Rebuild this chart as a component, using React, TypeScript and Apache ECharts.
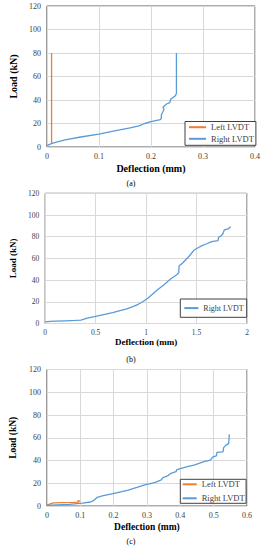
import { useEffect, useRef } from "react";
import * as echarts from "echarts";

const loadTicks = [0, 20, 40, 60, 80, 100, 120];
const deflTicksA = [0, 0.1, 0.2, 0.3, 0.4];
const deflTicksB = [0, 0.5, 1, 1.5, 2];
const deflTicksC = [0, 0.1, 0.2, 0.3, 0.4, 0.5, 0.6];
const seriesNames = ["Left LVDT", "Right LVDT"];
const captions = ["(a)", "(b)", "(c)"];
const xTitle = "Deflection (mm)";
const yTitle = "Load (kN)";

const leftA = [[0.009, 2.5], [0.009, 80]];
const rightA = [
  [0, 1], [0.003, 1.8], [0.01, 3], [0.02, 4.3], [0.035, 6], [0.065, 8.5], [0.1, 11],
  [0.13, 13.8], [0.16, 16.2], [0.177, 18], [0.188, 20], [0.2, 21.5], [0.218, 23.3],
  [0.22, 24.5], [0.22, 27.5], [0.223, 30], [0.225, 32], [0.223, 33.8], [0.23, 36.6],
  [0.236, 37.7], [0.238, 40.6], [0.243, 42.3], [0.247, 43.7], [0.249, 45.7], [0.249, 80],
];
const rightB = [
  [0, 1.5], [0.05, 1.9], [0.1, 2.2], [0.2, 2.5], [0.3, 2.8], [0.354, 3.2], [0.417, 5],
  [0.512, 6.9], [0.6, 8.6], [0.67, 10], [0.75, 12], [0.8, 13.3], [0.87, 15.5], [0.922, 17.7],
  [0.97, 20.3], [1.017, 23.2], [1.06, 26.8], [1.11, 30.9], [1.175, 35.5], [1.239, 40.7],
  [1.3, 44.7], [1.324, 46.8], [1.327, 53], [1.365, 56], [1.4, 59.5], [1.428, 62.2],
  [1.476, 67.7], [1.52, 70], [1.555, 71.8], [1.6, 73.5], [1.65, 75.5], [1.713, 76.3],
  [1.718, 79.5], [1.74, 80.5], [1.76, 82.5], [1.775, 86.2], [1.822, 87.4], [1.825, 88.5],
  [1.839, 89.2],
];
const leftC = [
  [0, 0.8], [0.01, 1.8], [0.02, 2.8], [0.05, 3], [0.08, 3.2], [0.095, 3.4], [0.093, 4.8], [0.1, 4],
];
const rightC = [
  [0, 0.5], [0.03, 1], [0.067, 1.5], [0.106, 2.6], [0.131, 3.5], [0.141, 5], [0.151, 7.6],
  [0.166, 8.8], [0.205, 11.4], [0.244, 14], [0.27, 16.3], [0.293, 18.5], [0.323, 20.5],
  [0.343, 22.9], [0.348, 25], [0.362, 26.4], [0.372, 28.7], [0.387, 30.2], [0.39, 32],
  [0.421, 34.6], [0.441, 36], [0.471, 39], [0.49, 40.4], [0.497, 43], [0.508, 44],
  [0.51, 47.2], [0.528, 47.5], [0.53, 51.3], [0.537, 53.5], [0.545, 54.8], [0.547, 63],
];

const FONT = "'Liberation Serif', 'Times New Roman', serif";
const ORANGE = "#ED7D31";
const BLUE = "#5B9BD5";
const TXT = "#404040";

function xAxis(idx: number, ticks: number[], fs: number, gap: number, nfs: number) {
  return {
    type: "value",
    gridIndex: idx,
    min: ticks[0],
    max: ticks[ticks.length - 1],
    interval: ticks[1] - ticks[0],
    axisLine: { show: false },
    axisTick: { show: false },
    axisLabel: { fontFamily: FONT, fontSize: fs, color: TXT, margin: 5 },
    splitLine: { show: true, lineStyle: { color: "#d9d9d9", width: 1 } },
    name: xTitle,
    nameLocation: "middle",
    nameGap: gap,
    nameTextStyle: { fontFamily: FONT, fontSize: nfs, fontWeight: "bold", color: "#000" },
  };
}
function yAxis(idx: number, fs: number, gap: number, nfs: number) {
  return {
    type: "value",
    gridIndex: idx,
    min: loadTicks[0],
    max: loadTicks[loadTicks.length - 1],
    interval: loadTicks[1] - loadTicks[0],
    axisLine: { show: false },
    axisTick: { show: false },
    axisLabel: { fontFamily: FONT, fontSize: fs, color: TXT, margin: 6 },
    splitLine: { show: true, lineStyle: { color: "#d9d9d9", width: 1 } },
    name: yTitle,
    nameLocation: "middle",
    nameGap: gap,
    nameTextStyle: { fontFamily: FONT, fontSize: nfs, fontWeight: "bold", color: "#000" },
  };
}
function line(name: string, data: number[][], color: string, idx: number) {
  return {
    type: "line",
    name,
    data,
    xAxisIndex: idx,
    yAxisIndex: idx,
    showSymbol: false,
    symbol: "none",
    lineStyle: { color, width: 1.3 },
    itemStyle: { color },
    z: color === BLUE ? 3 : 2,
  };
}
function legend(
  names: string[], left: number, top: number, padding: number[], gap: number,
  iw: number, fs: number
) {
  return {
    data: names,
    orient: "vertical",
    left,
    top,
    padding,
    itemGap: gap,
    itemWidth: iw,
    itemHeight: 2,
    icon: "rect",
    backgroundColor: "#fff",
    borderColor: "#404040",
    borderWidth: 1,
    borderRadius: 0,
    selectedMode: false,
    textStyle: { fontFamily: FONT, fontSize: fs, color: TXT, lineHeight: 8 },
  };
}

export default function App() {
  const ref = useRef<HTMLDivElement>(null);
  useEffect(() => {
    if (!ref.current) return;
    const chart = echarts.init(ref.current, null, { renderer: "svg" });
    const grids = [
      { left: 30.5, top: 6, width: 225.5, height: 141 },
      { left: 36, top: 193.3, width: 211, height: 130.2 },
      { left: 44, top: 369.5, width: 203, height: 136.5 },
    ].map((g) => ({ ...g, show: true, borderColor: "#595959", borderWidth: 1, backgroundColor: "transparent" }));
    chart.setOption({
      animation: false,
      backgroundColor: "#fff",
      grid: grids,
      xAxis: [
        xAxis(0, deflTicksA, 8, 16, 10),
        xAxis(1, deflTicksB, 7.5, 14, 9),
        xAxis(2, deflTicksC, 8, 16, 9.5),
      ],
      yAxis: [yAxis(0, 8, 19, 10), yAxis(1, 7.5, 16, 9), yAxis(2, 8, 19, 9.5)],
      legend: [
        legend(seriesNames, 185, 121.5, [1.2, 2, 2, 4], 2.6, 17, 8.5),
        legend([seriesNames[1]], 180.3, 299, [5.1, 3, 5.2, 4], 0, 14, 8),
        legend(seriesNames, 180.3, 479.3, [0.5, 1.5, 0.5, 2.4], 5, 14, 8.5),
      ],
      series: [
        line(seriesNames[0], leftA, ORANGE, 0),
        line(seriesNames[1], rightA, BLUE, 0),
        line(seriesNames[1], rightB, BLUE, 1),
        line(seriesNames[0], leftC, ORANGE, 2),
        line(seriesNames[1], rightC, BLUE, 2),
      ],
      graphic: [
        { type: "text", x: 131, y: 183, style: { text: captions[0], font: `8px ${FONT}`, fill: "#000", align: "center", verticalAlign: "middle" } },
        { type: "text", x: 131, y: 359, style: { text: captions[1], font: `8px ${FONT}`, fill: "#000", align: "center", verticalAlign: "middle" } },
        { type: "text", x: 131, y: 541, style: { text: captions[2], font: `8px ${FONT}`, fill: "#000", align: "center", verticalAlign: "middle" } },
      ],
    });
    return () => chart.dispose();
  }, []);
  return <div ref={ref} style={{ position: "fixed", left: 0, top: 0, width: 263, height: 550 }} />;
}
